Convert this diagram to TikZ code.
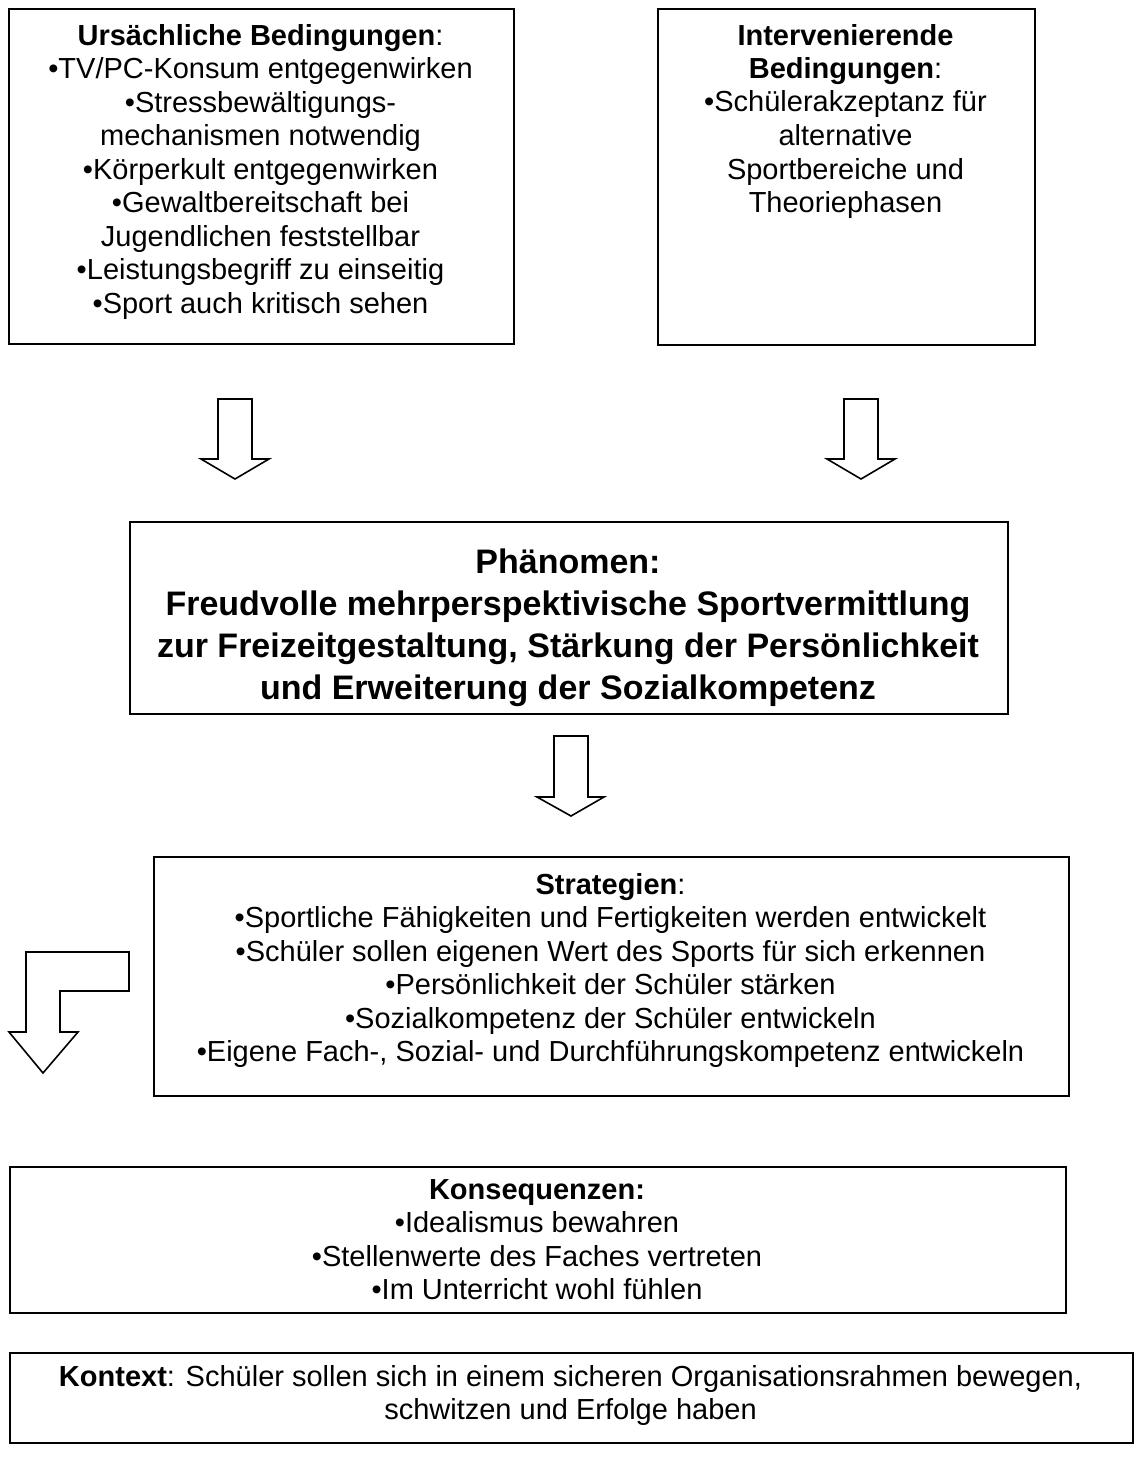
\documentclass[tikz,border=0pt]{standalone}
\usepackage{fontspec}
\setmainfont{Liberation Sans}
\begin{document}
\begin{tikzpicture}[x=1pt, y=-1pt,
    frame/.style={draw, line width=2pt, anchor=north west, inner sep=0pt},
    % text blocks are placed by the baseline of their last line
    txt/.style={anchor=base, align=center, inner sep=0pt,
                font=\fontsize{29}{33.5}\selectfont},
    bigtxt/.style={anchor=base, align=center, inner sep=0pt,
                font=\fontsize{34}{42}\selectfont\bfseries},
    blockarrow/.style={draw, line width=1.6pt, line join=miter, fill=white}]
\useasboundingbox (0,0) rectangle (1140,1474);

% boxes
\node[frame, minimum width=505pt, minimum height=335pt] (cause) at (8,8) {};
\node[frame, minimum width=377pt, minimum height=336pt] (interv) at (657,8) {};
\node[frame, minimum width=878pt, minimum height=192pt] (phen) at (129,521) {};
\node[frame, minimum width=915pt, minimum height=239pt] (strat) at (153,856) {};
\node[frame, minimum width=1056pt, minimum height=146pt] (cons) at (9,1166) {};
\node[frame, minimum width=1123pt, minimum height=90pt] (ctx) at (9,1352) {};

% texts
\node[txt] (causetxt) at (260.5,313) {\textbf{Ursächliche Bedingungen}:\\
  •TV/PC-Konsum entgegenwirken\\
  •Stressbewältigungs-\\
  mechanismen notwendig\\
  •Körperkult entgegenwirken\\
  •Gewaltbereitschaft bei\\
  Jugendlichen feststellbar\\
  •Leistungsbegriff zu einseitig\\
  •Sport auch kritisch sehen};

\node[txt] (intervtxt) at (845.5,212.5) {\textbf{Intervenierende}\\
  \textbf{Bedingungen}:\\
  •Schülerakzeptanz für\\
  alternative\\
  Sportbereiche und\\
  Theoriephasen};

\node[bigtxt] (phentxt) at (568,699) {Phänomen:\\
  Freudvolle mehrperspektivische Sportvermittlung\\
  zur Freizeitgestaltung, Stärkung der Persönlichkeit\\
  und Erweiterung der Sozialkompetenz};

\node[txt] (strattxt) at (610.5,1061.5) {\textbf{Strategien}:\\
  •Sportliche Fähigkeiten und Fertigkeiten werden entwickelt\\
  •Schüler sollen eigenen Wert des Sports für sich erkennen\\
  •Persönlichkeit der Schüler stärken\\
  •Sozialkompetenz der Schüler entwickeln\\
  •Eigene Fach-, Sozial- und Durchführungskompetenz entwickeln};

\node[txt] (constxt) at (537,1299.5) {\textbf{Konsequenzen:}\\
  •Idealismus bewahren\\
  •Stellenwerte des Faches vertreten\\
  •Im Unterricht wohl fühlen};

\node[txt] (ctxtxt) at (570.5,1419.5) {\textbf{Kontext}: Schüler sollen sich in einem sicheren Organisationsrahmen bewegen,\\
  schwitzen und Erfolge haben};

% block arrows
\draw[blockarrow] (218,399) -- (252,399) -- (252,459) -- (269,459) -- (235,479)
  -- (201,459) -- (218,459) -- cycle;
\draw[blockarrow] (844,399) -- (878,399) -- (878,459) -- (895,459) -- (861,479)
  -- (827,459) -- (844,459) -- cycle;
\draw[blockarrow] (554,736) -- (588,736) -- (588,797) -- (604,797) -- (571,816)
  -- (537,797) -- (554,797) -- cycle;
\draw[blockarrow] (26,952) -- (129,952) -- (129,991) -- (60,991) -- (60,1032)
  -- (78,1032) -- (43,1073) -- (9,1032) -- (26,1032) -- cycle;
\end{tikzpicture}
\end{document}
